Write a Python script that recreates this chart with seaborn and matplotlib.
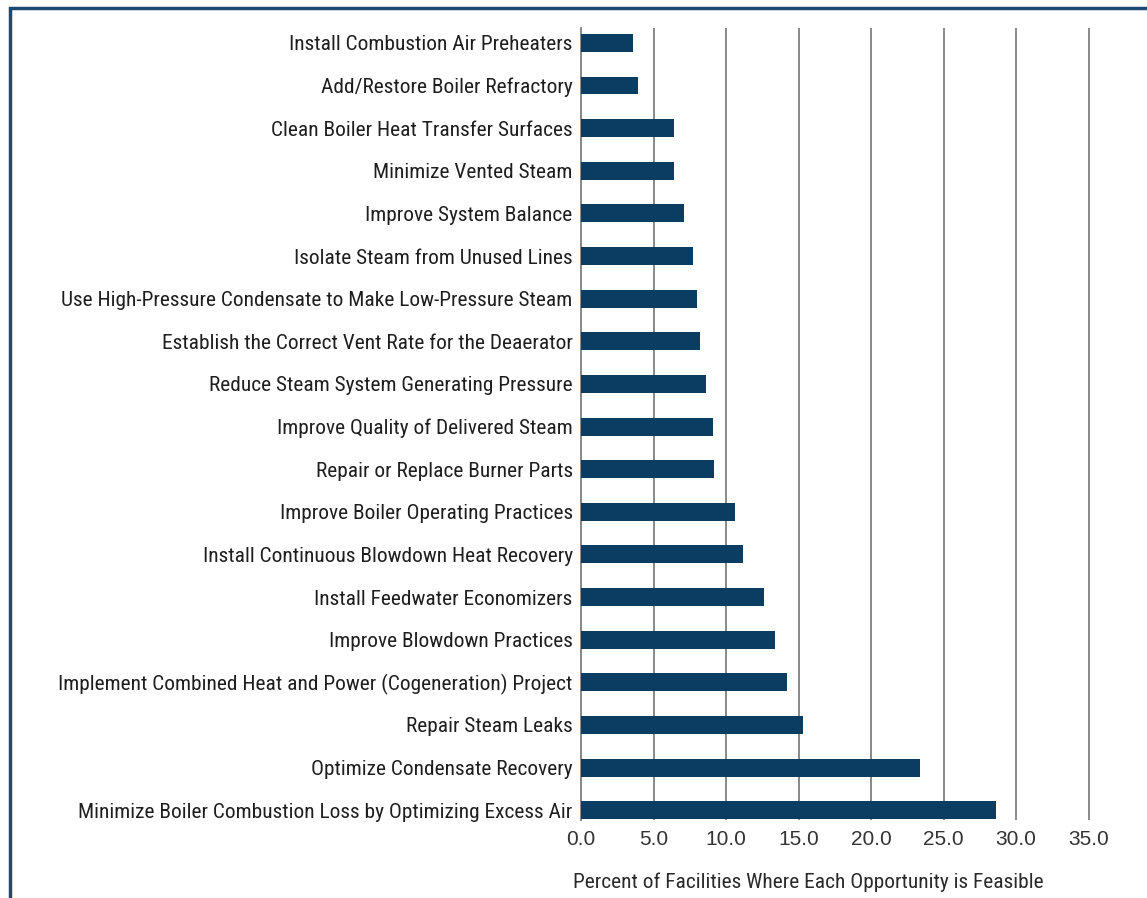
import matplotlib
matplotlib.use("Agg")
import matplotlib.pyplot as plt
import seaborn as sns
import pandas as pd
from matplotlib.patches import Rectangle

opportunities = [
    "Install Combustion Air Preheaters",
    "Add/Restore Boiler Refractory",
    "Clean Boiler Heat Transfer Surfaces",
    "Minimize Vented Steam",
    "Improve System Balance",
    "Isolate Steam from Unused Lines",
    "Use High-Pressure Condensate to Make Low-Pressure Steam",
    "Establish the Correct Vent Rate for the Deaerator",
    "Reduce Steam System Generating Pressure",
    "Improve Quality of Delivered Steam",
    "Repair or Replace Burner Parts",
    "Improve Boiler Operating Practices",
    "Install Continuous Blowdown Heat Recovery",
    "Install Feedwater Economizers",
    "Improve Blowdown Practices",
    "Implement Combined Heat and Power (Cogeneration) Project",
    "Repair Steam Leaks",
    "Optimize Condensate Recovery",
    "Minimize Boiler Combustion Loss by Optimizing Excess Air",
]
percent = [3.6, 3.9, 6.4, 6.4, 7.1, 7.7, 8.0, 8.2, 8.6, 9.1, 9.2,
           10.6, 11.2, 12.6, 13.4, 14.2, 15.3, 23.4, 28.6]
xticks = [0, 5, 10, 15, 20, 25, 30, 35]

df = pd.DataFrame({"opportunity": opportunities, "percent": percent})

sns.set_style("white")
plt.rcParams["font.family"] = ["Roboto Condensed", "Liberation Sans", "DejaVu Sans"]

fig = plt.figure(figsize=(11.47, 8.98), dpi=100)
ax = fig.add_axes([581 / 1147, 1 - 820 / 898, (1132 - 581) / 1147, (820 - 28) / 898])

sns.barplot(data=df, x="percent", y="opportunity", orient="h", color="#0b3d63",
            width=0.42, saturation=1, linewidth=0, ax=ax, zorder=3)

ax.set_xlim(0, 38)
ax.set_ylim(18.23, -0.35)
ax.set_xticks(xticks)
ax.set_xticklabels([f"{t:.1f}" for t in xticks], family=["Liberation Sans", "DejaVu Sans"],
                   fontsize=15, color="#333333")
ax.tick_params(axis="x", length=0, pad=7)
ax.tick_params(axis="y", length=0, pad=6, labelsize=15.4, labelcolor="#1e1e1e")
ax.grid(axis="x", color="#888888", linewidth=1.4, zorder=0)
ax.grid(axis="y", visible=False)
for s in ["top", "right", "bottom"]:
    ax.spines[s].set_visible(False)
ax.spines["left"].set_color("#888888")
ax.spines["left"].set_linewidth(1.4)
ax.set_xlabel("")
ax.set_ylabel("")

fig.text(573 / 1147, 1 - 882 / 898, "Percent of Facilities Where Each Opportunity is Feasible",
         ha="left", va="center", fontsize=15.4, color="#2a2a2a")

# frame around the panel
fig.patches.append(Rectangle((10 / 1147, -0.1), 1.2, 1 - 8 / 898 + 0.1, transform=fig.transFigure,
                             fill=False, edgecolor="#1a4a73", linewidth=2.5, zorder=10))

fig.savefig("out.png", dpi=100)
